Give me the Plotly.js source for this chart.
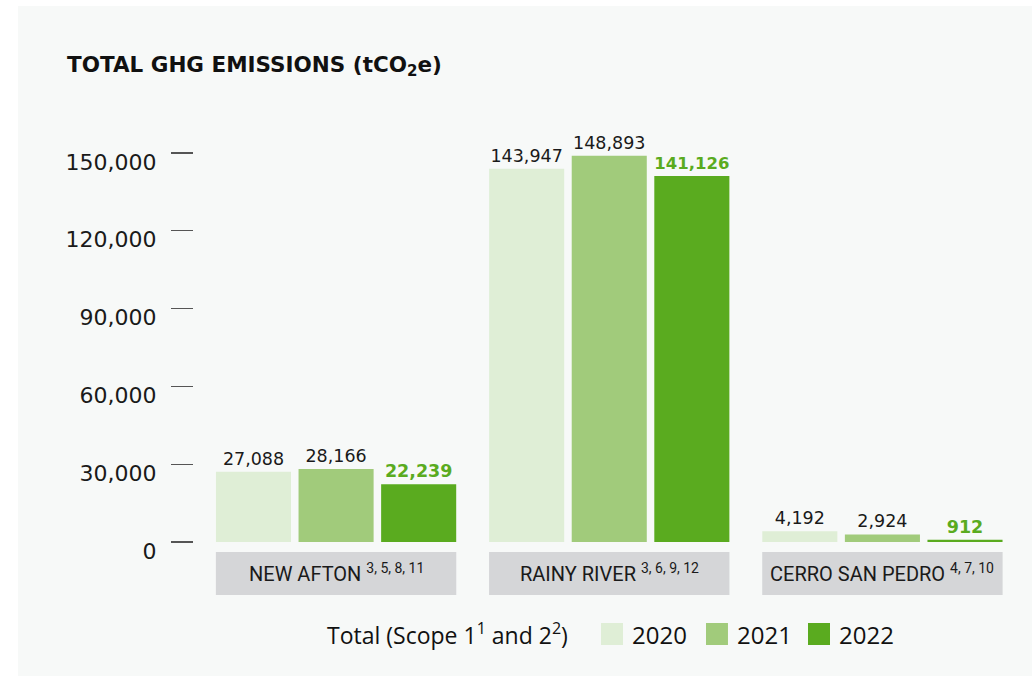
<!DOCTYPE html>
<html>
<head>
<meta charset="utf-8">
<script src="https://cdn.plot.ly/plotly-3.0.1.min.js"></script>
<style>html,body{margin:0;padding:0;background:#fff;}#chart{width:1032px;height:679px;}</style>
</head>
<body>
<div id="chart"></div>
<script>
// ---- data ----
const sites = ["NEW AFTON", "RAINY RIVER", "CERRO SAN PEDRO"];
const siteNotes = ["3, 5, 8, 11", "3, 6, 9, 12", "4, 7, 10"];
const years = ["2020", "2021", "2022"];
const values2020 = [27088, 143947, 4192];
const values2021 = [28166, 148893, 2924];
const values2022 = [22239, 141126, 912];
const yTicks = [0, 30000, 60000, 90000, 120000, 150000];
const yTickLabels = ["0", "30,000", "60,000", "90,000", "120,000", "150,000"];
const legendTitle = "Total (Scope 1<sup>1</sup> and 2<sup>2</sup>)";
const chartTitle = "TOTAL GHG EMISSIONS (tCO<sub>2</sub>e)";

// ---- styles ----
const colors = ["#dfeed6", "#a1cb7b", "#5aab1f"];
const seriesValues = [values2020, values2021, values2022];
const numFont = "DejaVu Sans, Open Sans, sans-serif";
const txtFont = "Open Sans, Noto Sans, sans-serif";
const catFont = "Liberation Sans Narrow, Roboto, sans-serif";

const traces = years.map((yr, i) => ({
  type: "bar",
  name: yr,
  x: sites,
  y: seriesValues[i],
  marker: { color: colors[i], line: { width: 0 } },
  texttemplate: i === 2 ? "<b>%{y:,}</b>" : "%{y:,}",
  textposition: "outside",
  cliponaxis: false,
  textfont: { family: numFont, size: 17.5, color: i === 2 ? colors[2] : "#1a1a1a" },
  showlegend: false,
  hoverinfo: "x+y+name"
}));

const shapes = [];
const annotations = [];

// panel background
shapes.push({ type: "rect", xref: "paper", yref: "paper", x0: -0.1804, x1: 1.02, y0: -0.3229, y1: 1.2916,
  fillcolor: "#f7f9f8", line: { width: 0 }, layer: "below" });

// category label boxes
sites.forEach((s, i) => {
  shapes.push({ type: "rect", xref: "x", yref: "paper", x0: i - 0.44, x1: i + 0.44, y0: -0.1277, y1: -0.0241,
    fillcolor: "#d5d6d8", line: { width: 0 }, layer: "below" });
  annotations.push({ xref: "x", yref: "paper", x: i, y: -0.0759, xanchor: "center", yanchor: "middle",
    text: s + " <sup>" + siteNotes[i] + "</sup>", showarrow: false,
    font: { family: catFont, size: 20, color: "#1a1a1a" } });
});

// custom legend
annotations.push({ xref: "paper", yref: "paper", x: 0.1816, y: -0.2217, xanchor: "left", yanchor: "middle",
  text: legendTitle, showarrow: false, font: { family: txtFont, size: 23, color: "#111" } });
const swX = [0.5071, 0.6309, 0.7512];
years.forEach((yr, i) => {
  shapes.push({ type: "rect", xref: "paper", yref: "paper", x0: swX[i], x1: swX[i] + 0.0259, y0: -0.2482, y1: -0.1952,
    fillcolor: colors[i], line: { width: 0 } });
  annotations.push({ xref: "paper", yref: "paper", x: swX[i] + 0.0342, y: -0.2217, xanchor: "left", yanchor: "middle",
    text: yr, showarrow: false, font: { family: txtFont, size: 24, color: "#111" } });
});

const layout = {
  width: 1032, height: 679,
  paper_bgcolor: "#ffffff",
  plot_bgcolor: "rgba(0,0,0,0)",
  margin: { l: 171, r: 13, t: 127, b: 137 },
  title: {
    text: chartTitle, xref: "container", yref: "container", x: 0.0649, y: 0.9057,
    xanchor: "left", yanchor: "middle",
    font: { family: "DejaVu Sans, Liberation Sans, sans-serif", size: 21.5, color: "#111", weight: "bold" }
  },
  barmode: "group",
  bargap: 0.093,
  bargroupgap: 0.091,
  xaxis: {
    type: "category", domain: [0.0336, 1], range: [-0.5, 2.5],
    showticklabels: false, ticks: "", showgrid: false, zeroline: false, showline: false, fixedrange: true
  },
  yaxis: {
    range: [0, 160000], anchor: "free", position: 0.0259,
    tickvals: yTicks, ticktext: yTickLabels,
    ticks: "outside", ticklen: 22, tickwidth: 1.2, tickcolor: "#555",
    ticklabelstandoff: 10, ticklabelshift: 9,
    tickfont: { family: numFont, size: 22, color: "#1a1a1a" },
    showgrid: false, zeroline: false, showline: false, fixedrange: true
  },
  shapes: shapes,
  annotations: annotations
};

Plotly.newPlot("chart", traces, layout, { displayModeBar: false, staticPlot: true });
</script>
</body>
</html>
